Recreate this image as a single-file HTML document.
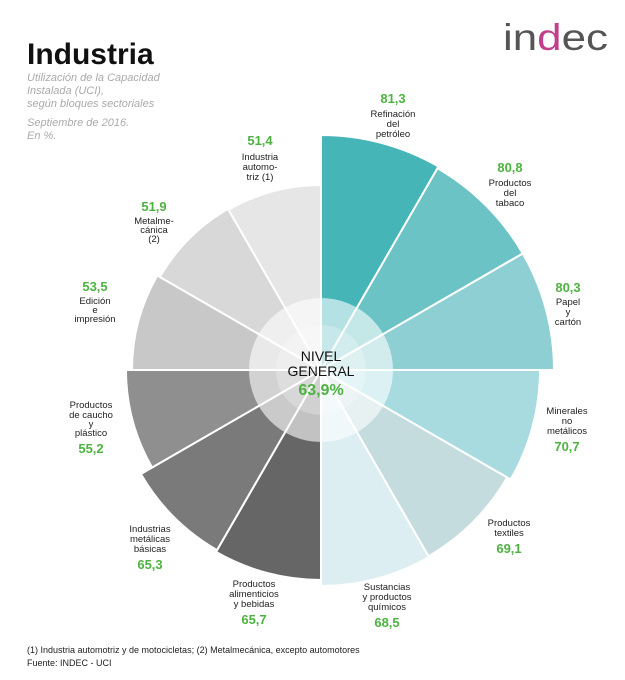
<!DOCTYPE html>
<html><head><meta charset="utf-8"><style>
html,body{margin:0;padding:0;background:#fff;}
svg{display:block;font-family:"Liberation Sans",Arial,sans-serif;}
.g{fill:#4db340;font-weight:bold;font-size:13px;text-anchor:middle}
.l{fill:#222;font-size:9.5px;text-anchor:middle}
.s{fill:#aaa;font-size:11px;font-style:italic}
</style></head><body>
<svg width="625" height="680" viewBox="0 0 625 680">
<rect width="625" height="680" fill="#fff"/>
<text x="27" y="64" font-size="30" font-weight="bold" fill="#111">Industria</text>
<text class="s" x="27" y="81">Utilización de la Capacidad</text>
<text class="s" x="27" y="94">Instalada (UCI),</text>
<text class="s" x="27" y="107">según bloques sectoriales</text>
<text class="s" x="27" y="126">Septiembre de 2016.</text>
<text class="s" x="27" y="139">En %.</text>
<text x="503" y="50" font-size="37" fill="#555" textLength="105" lengthAdjust="spacingAndGlyphs">in<tspan fill="#c2408a">d</tspan>ec</text>

<g stroke="#fff" stroke-width="2" stroke-linejoin="round">
<path d="M321 370 L321 135 A235 235 0 0 1 438.5 166.5 Z" fill="#45b5b8"/>
<path d="M321 370 L437.5 168.2 A233 233 0 0 1 522.8 253.5 Z" fill="#6cc3c6"/>
<path d="M321 370 L522.8 253.5 A233 233 0 0 1 554 370 Z" fill="#8ecfd3"/>
<path d="M321 370 L540 370 A219 219 0 0 1 510.7 479.5 Z" fill="#a8dbe0"/>
<path d="M321 370 L507.2 477.5 A215 215 0 0 1 428.5 556.2 Z" fill="#c5dcdf"/>
<path d="M321 370 L429 557.1 A216 216 0 0 1 321 586 Z" fill="#ddeef3"/>
<path d="M321 370 L321 580 A210 210 0 0 1 216 551.9 Z" fill="#666666"/>
<path d="M321 370 L217 550.1 A208 208 0 0 1 140.9 474 Z" fill="#7a7a7a"/>
<path d="M321 370 L152.1 467.5 A195 195 0 0 1 126 370 Z" fill="#8f8f8f"/>
<path d="M321 370 L132 370 A189 189 0 0 1 157.3 275.5 Z" fill="#c8c8c8"/>
<path d="M321 370 L159.9 277 A186 186 0 0 1 228 208.9 Z" fill="#d8d8d8"/>
<path d="M321 370 L228.5 209.8 A185 185 0 0 1 321 185 Z" fill="#e6e6e6"/>
</g>
<circle cx="321" cy="370" r="72" fill="#fff" opacity="0.6"/>
<circle cx="321" cy="370" r="45" fill="#fff" opacity="0.25"/>
<text x="321" y="361" font-size="14" fill="#111" text-anchor="middle">NIVEL</text>
<text x="321" y="376" font-size="14" fill="#111" text-anchor="middle">GENERAL</text>
<text x="321" y="395" font-size="16" font-weight="bold" fill="#4db340" text-anchor="middle">63,9%</text>

<text class="g" x="393" y="103">81,3</text>
<text class="l" x="393" y="117">Refinación</text><text class="l" x="393" y="127">del</text><text class="l" x="393" y="137">petróleo</text>

<text class="g" x="510" y="172">80,8</text>
<text class="l" x="510" y="186">Productos</text><text class="l" x="510" y="196">del</text><text class="l" x="510" y="206">tabaco</text>

<text class="g" x="568" y="292">80,3</text>
<text class="l" x="568" y="305">Papel</text><text class="l" x="568" y="315">y</text><text class="l" x="568" y="325">cartón</text>

<text class="l" x="567" y="414">Minerales</text><text class="l" x="567" y="424">no</text><text class="l" x="567" y="434">metálicos</text>
<text class="g" x="567" y="451">70,7</text>

<text class="l" x="509" y="526">Productos</text><text class="l" x="509" y="536">textiles</text>
<text class="g" x="509" y="553">69,1</text>

<text class="l" x="387" y="590">Sustancias</text><text class="l" x="387" y="600">y productos</text><text class="l" x="387" y="610">químicos</text>
<text class="g" x="387" y="627">68,5</text>

<text class="l" x="254" y="587">Productos</text><text class="l" x="254" y="597">alimenticios</text><text class="l" x="254" y="607">y bebidas</text>
<text class="g" x="254" y="624">65,7</text>

<text class="l" x="150" y="532">Industrias</text><text class="l" x="150" y="542">metálicas</text><text class="l" x="150" y="552">básicas</text>
<text class="g" x="150" y="569">65,3</text>

<text class="l" x="91" y="408">Productos</text><text class="l" x="91" y="418">de caucho</text><text class="l" x="91" y="427">y</text><text class="l" x="91" y="436">plástico</text>
<text class="g" x="91" y="453">55,2</text>

<text class="g" x="95" y="291">53,5</text>
<text class="l" x="95" y="304">Edición</text><text class="l" x="95" y="313">e</text><text class="l" x="95" y="322">impresión</text>

<text class="g" x="154" y="211">51,9</text>
<text class="l" x="154" y="224">Metalme-</text><text class="l" x="154" y="233">cánica</text><text class="l" x="154" y="242">(2)</text>

<text class="g" x="260" y="145">51,4</text>
<text class="l" x="260" y="160">Industria</text><text class="l" x="260" y="170">automo-</text><text class="l" x="260" y="180">triz (1)</text>

<text x="27" y="653" font-size="9" fill="#222">(1) Industria automotriz y de motocicletas; (2) Metalmecánica, excepto automotores</text>
<text x="27" y="666" font-size="9" fill="#222">Fuente: INDEC - UCI</text>
</svg>
</body></html>
